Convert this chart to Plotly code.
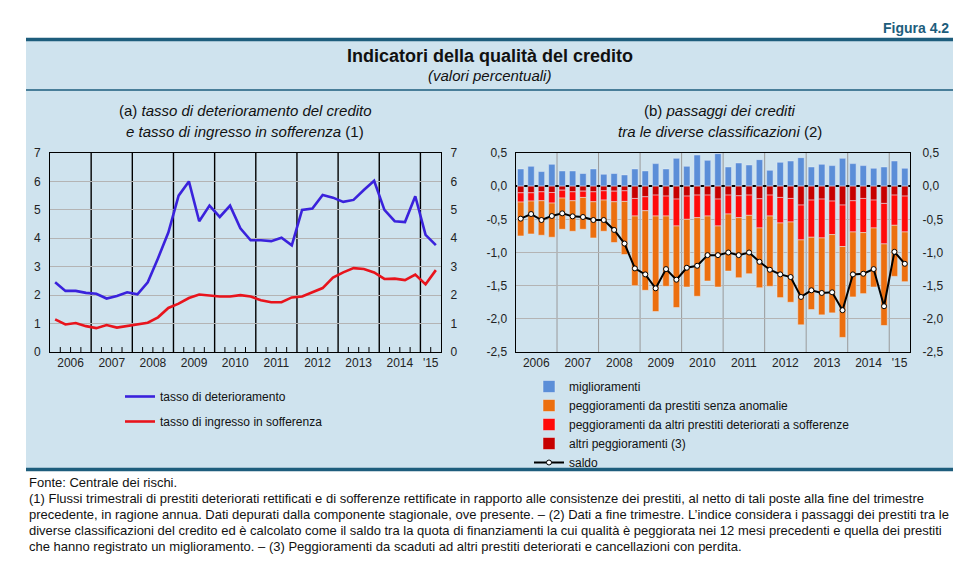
import plotly.graph_objects as go

# quarters 2006 Q1 - 2015 Q2
years = ['2006', '2007', '2008', '2009', '2010', '2011', '2012', '2013', '2014', "'15"]
quarters_per_year = [4, 4, 4, 4, 4, 4, 4, 4, 4, 2]

# (a) tassi, valori percentuali
deterioramento = [2.45, 2.15, 2.15, 2.08, 2.05, 1.88, 1.97, 2.10,
                  2.03, 2.45, 3.30, 4.20, 5.50, 6.00, 4.60, 5.15,
                  4.75, 5.15, 4.35, 3.93, 3.93, 3.90, 4.02, 3.75,
                  5.00, 5.05, 5.52, 5.43, 5.28, 5.35, 5.70, 6.02,
                  5.00, 4.60, 4.57, 5.48, 4.12, 3.76]
sofferenza = [1.15, 0.97, 1.02, 0.91, 0.84, 0.95, 0.86, 0.92,
              0.98, 1.03, 1.22, 1.55, 1.70, 1.90, 2.02, 1.98,
              1.95, 1.95, 2.00, 1.95, 1.82, 1.75, 1.75, 1.92,
              1.95, 2.10, 2.25, 2.62, 2.80, 2.95, 2.92, 2.80,
              2.57, 2.58, 2.53, 2.72, 2.38, 2.88]

# (b) passaggi dei crediti
miglioramenti = [0.26, 0.30, 0.22, 0.33, 0.23, 0.23, 0.19, 0.26,
                 0.18, 0.19, 0.17, 0.26, 0.23, 0.34, 0.26, 0.42,
                 0.30, 0.47, 0.39, 0.49, 0.29, 0.35, 0.32, 0.40,
                 0.24, 0.36, 0.38, 0.43, 0.29, 0.33, 0.31, 0.42,
                 0.34, 0.31, 0.27, 0.29, 0.38, 0.27]
altri_peggioramenti = [-0.10, -0.10, -0.085, -0.095, -0.06, -0.085, -0.075, -0.085,
                       -0.07, -0.075, -0.07, -0.185, -0.16, -0.135, -0.15, -0.195,
                       -0.15, -0.135, -0.135, -0.195, -0.135, -0.145, -0.135, -0.19,
                       -0.135, -0.17, -0.185, -0.285, -0.21, -0.195, -0.225, -0.285,
                       -0.22, -0.185, -0.21, -0.26, -0.135, -0.15]
da_deteriorati_a_sofferenze = [-0.14, -0.125, -0.135, -0.16, -0.12, -0.135, -0.095, -0.15,
                               -0.14, -0.16, -0.16, -0.265, -0.21, -0.315, -0.30, -0.405,
                               -0.35, -0.34, -0.315, -0.405, -0.285, -0.33, -0.305, -0.44,
                               -0.315, -0.385, -0.355, -0.525, -0.56, -0.585, -0.505, -0.625,
                               -0.47, -0.515, -0.42, -0.61, -0.455, -0.54]
da_senza_anomalie = [-0.51, -0.495, -0.52, -0.515, -0.47, -0.46, -0.48, -0.545,
                     -0.47, -0.615, -0.80, -1.05, -1.20, -1.44, -1.06, -1.23,
                     -1.02, -1.185, -0.98, -0.92, -0.86, -0.905, -0.88, -0.90,
                     -1.06, -1.125, -1.21, -1.28, -1.09, -1.16, -1.18, -1.37,
                     -0.98, -0.92, -0.89, -1.23, -0.77, -0.75]
saldo = [-0.49, -0.42, -0.51, -0.45, -0.41, -0.455, -0.465, -0.51,
         -0.51, -0.66, -0.865, -1.24, -1.33, -1.54, -1.25, -1.41,
         -1.23, -1.20, -1.04, -1.04, -1.00, -1.04, -1.00, -1.14,
         -1.26, -1.33, -1.37, -1.67, -1.57, -1.61, -1.60, -1.87,
         -1.33, -1.32, -1.25, -1.81, -0.99, -1.17]

left_ticks = [0, 1, 2, 3, 4, 5, 6, 7]
right_ticks = [0.5, 0.0, -0.5, -1.0, -1.5, -2.0, -2.5]
right_ticktext = ['0,5', '0,0', '-0,5', '-1,0', '-1,5', '-2,0', '-2,5']

W, H = 969, 564
TEAL = '#1d5d7c'
PANEL = '#cfe3ee'
FONT = 'Liberation Sans, Arial, sans-serif'


def px(x):
    return x / W


def py(y):
    return 1 - y / H


# quarter positions, year centres and year edges
year_mid, year_edge = [], []
pos = 0
for n in quarters_per_year:
    year_mid.append(pos + (n - 1) / 2)
    pos += n
    year_edge.append(pos - 0.5)
x = list(range(pos))
quarter_edges = [e + 0.5 for e in x[:-1] if e + 0.5 not in year_edge]

fig = go.Figure()

# (a) lines
fig.add_trace(go.Scatter(x=x, y=deterioramento, mode='lines', name='tasso di deterioramento',
                         line=dict(color='#3a22dc', width=2.6), xaxis='x', yaxis='y',
                         legend='legend', legendgroup='a1'))
fig.add_trace(go.Scatter(x=x, y=sofferenza, mode='lines', name='tasso di ingresso in sofferenza',
                         line=dict(color='#e8141c', width=2.6), xaxis='x', yaxis='y',
                         legend='legend', legendgroup='a2'))
# invisible copy so the right-hand axis of (a) is drawn
fig.add_trace(go.Scatter(x=x, y=deterioramento, mode='lines', line=dict(width=0), opacity=0,
                         showlegend=False, hoverinfo='skip', xaxis='x', yaxis='y2'))

# (b) bars, stacked from zero downwards
fig.add_trace(go.Bar(x=x, y=miglioramenti, name='miglioramenti', marker_color='#5b8ed8',
                     xaxis='x2', yaxis='y3', legend='legend2', legendrank=1))
fig.add_trace(go.Bar(x=x, y=altri_peggioramenti, name='altri peggioramenti (3)', marker_color='#c60000',
                     xaxis='x2', yaxis='y3', legend='legend2', legendrank=4))
fig.add_trace(go.Bar(x=x, y=da_deteriorati_a_sofferenze,
                     name='peggioramenti da altri prestiti deteriorati a sofferenze',
                     marker_color='#ff0a0a', xaxis='x2', yaxis='y3', legend='legend2', legendrank=3))
fig.add_trace(go.Bar(x=x, y=da_senza_anomalie, name='peggioramenti da prestiti senza anomalie',
                     marker_color='#ec6f0f', xaxis='x2', yaxis='y3', legend='legend2', legendrank=2))
fig.add_trace(go.Scatter(x=x, y=saldo, mode='lines+markers', name='saldo',
                         line=dict(color='black', width=2),
                         marker=dict(symbol='circle', size=5, color='white', line=dict(color='black', width=1)),
                         xaxis='x2', yaxis='y3', legend='legend2', legendrank=5))
fig.add_trace(go.Scatter(x=x, y=saldo, mode='lines', line=dict(width=0), opacity=0,
                         showlegend=False, hoverinfo='skip', xaxis='x2', yaxis='y4'))

xcommon = dict(range=[-0.5, pos - 0.5], tickmode='array', tickvals=year_mid, ticktext=years,
               ticks='', showgrid=False, zeroline=False, showline=True, mirror=True, automargin=False,
               linecolor='black', linewidth=1, tickfont=dict(size=12, color='#222'))
ycommon = dict(showline=True, linecolor='black', linewidth=1, ticks='', zeroline=False, automargin=False,
               tickfont=dict(size=12, color='#222'))

shapes = []
# panel background and rules
shapes.append(dict(type='rect', xref='paper', yref='paper', x0=px(26), x1=px(953), y0=py(469), y1=py(40),
                   fillcolor=PANEL, line_width=0, layer='below'))
shapes.append(dict(type='line', xref='paper', yref='paper', x0=px(26), x1=px(953), y0=py(39.5), y1=py(39.5),
                   line=dict(color=TEAL, width=3.5)))
shapes.append(dict(type='line', xref='paper', yref='paper', x0=px(26), x1=px(953), y0=py(90), y1=py(90),
                   line=dict(color=TEAL, width=1.3)))
shapes.append(dict(type='line', xref='paper', yref='paper', x0=px(26), x1=px(953), y0=py(469.5), y1=py(469.5),
                   line=dict(color=TEAL, width=3.5)))
# year separators
for e in year_edge[:-1]:
    shapes.append(dict(type='line', xref='x', yref='y domain', x0=e, x1=e, y0=0, y1=1,
                       line=dict(color='black', width=1.4), layer='below'))
    shapes.append(dict(type='line', xref='x2', yref='y3 domain', x0=e, x1=e, y0=0, y1=1,
                       line=dict(color='#9a9a9a', width=1), layer='below'))
# quarter ticks on (a)
for q in quarter_edges:
    shapes.append(dict(type='line', xref='x', yref='y domain', x0=q, x1=q, y0=0, y1=0.025,
                       line=dict(color='black', width=1), layer='below'))

ann = []
ann.append(dict(text='<b>Figura 4.2</b>', x=px(951), y=py(28), xanchor='right', yanchor='middle',
                font=dict(size=14, color=TEAL)))
ann.append(dict(text='<b>Indicatori della qualità del credito</b>', x=px(489.5), y=py(56),
                xanchor='center', yanchor='middle', font=dict(size=18, color='#111')))
ann.append(dict(text='<i>(valori percentuali)</i>', x=px(489.5), y=py(76),
                xanchor='center', yanchor='middle', font=dict(size=15, color='#111')))
ann.append(dict(text='(a) <i>tasso di deterioramento del credito</i>', x=px(245), y=py(110),
                xanchor='center', yanchor='middle', font=dict(size=15, color='#111')))
ann.append(dict(text='<i>e tasso di ingresso in sofferenza</i> (1)', x=px(245), y=py(131),
                xanchor='center', yanchor='middle', font=dict(size=15, color='#111')))
ann.append(dict(text='(b) <i>passaggi dei crediti</i>', x=px(720), y=py(110),
                xanchor='center', yanchor='middle', font=dict(size=15, color='#111')))
ann.append(dict(text='<i>tra le diverse classificazioni</i> (2)', x=px(720), y=py(131),
                xanchor='center', yanchor='middle', font=dict(size=15, color='#111')))

notes = [
    'Fonte: Centrale dei rischi.',
    '(1) Flussi trimestrali di prestiti deteriorati rettificati e di sofferenze rettificate in rapporto alle consistenze dei prestiti, '
    'al netto di tali poste alla fine del trimestre',
    'precedente, in ragione annua. Dati depurati dalla componente stagionale, ove presente. – (2) Dati a fine trimestre. '
    'L’indice considera i passaggi dei prestiti tra le',
    'diverse classificazioni del credito ed è calcolato come il saldo tra la quota di finanziamenti la cui qualità è '
    'peggiorata nei 12 mesi precedenti e quella dei prestiti',
    'che hanno registrato un miglioramento. – (3) Peggioramenti da scaduti ad altri prestiti deteriorati e cancellazioni con perdita.',
]
for i, t in enumerate(notes):
    ann.append(dict(text=t, x=px(27), y=py(482 + 16 * i), xanchor='left', yanchor='middle',
                    font=dict(size=13, color='#111')))
for a in ann:
    a.update(xref='paper', yref='paper', showarrow=False)

fig.update_layout(
    width=W, height=H,
    margin=dict(l=0, r=0, t=0, b=0, autoexpand=False),
    paper_bgcolor='white', plot_bgcolor='white',
    font=dict(family=FONT, size=12, color='#111'),
    barmode='relative', bargap=0.38,
    xaxis=dict(domain=[px(50), px(441)], anchor='y', **xcommon),
    yaxis=dict(domain=[py(352), py(153)], anchor='x', range=[0, 7], tickvals=left_ticks, showgrid=True,
               gridcolor='#b4b4b4', gridwidth=1, ticklabelstandoff=6, **ycommon),
    yaxis2=dict(overlaying='y', anchor='x', side='right', range=[0, 7], tickvals=left_ticks,
                showgrid=False, ticklabelstandoff=6, **ycommon),
    xaxis2=dict(domain=[px(515.5), px(910)], anchor='y3', **xcommon),
    yaxis3=dict(domain=[py(352), py(153)], anchor='x2', range=[-2.5, 0.5], tickvals=right_ticks,
                ticktext=right_ticktext, showgrid=True, gridcolor='#b4b4b4', gridwidth=1,
                ticklabelstandoff=5, **ycommon),
    yaxis4=dict(overlaying='y3', anchor='x2', side='right', range=[-2.5, 0.5], tickvals=right_ticks,
                ticktext=right_ticktext, showgrid=False, ticklabelstandoff=9, **ycommon),
    legend=dict(x=px(120), y=py(382), xanchor='left', yanchor='top', bgcolor='rgba(0,0,0,0)',
                font=dict(size=12), tracegroupgap=6, traceorder='grouped'),
    legend2=dict(x=px(529), y=py(372), xanchor='left', yanchor='top', bgcolor='rgba(0,0,0,0)',
                 font=dict(size=12), traceorder='normal', tracegroupgap=0),
    shapes=shapes,
    annotations=ann,
)
fig.update_layout(yaxis3=dict(zeroline=True, zerolinecolor='black', zerolinewidth=1.5))

fig.write_html('out.html', config={'displayModeBar': False},
               post_script="document.body.style.margin = '0px';")
